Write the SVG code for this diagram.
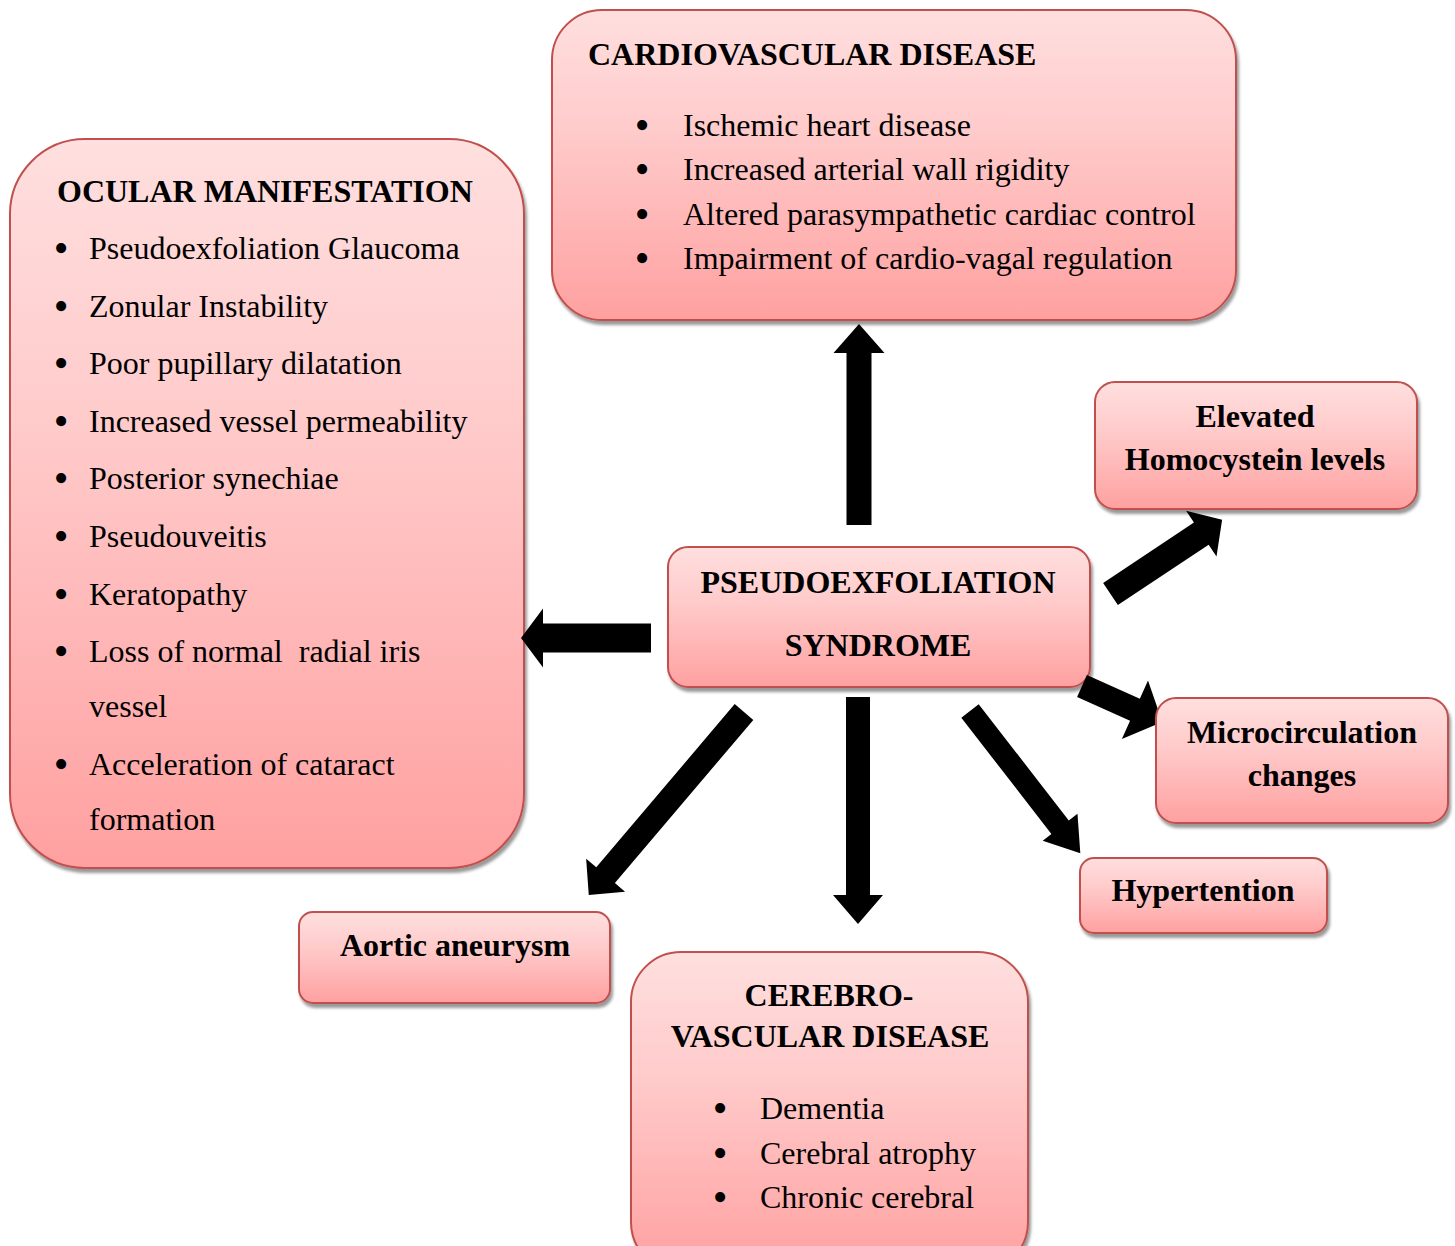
<svg xmlns="http://www.w3.org/2000/svg" width="1455" height="1246" viewBox="0 0 1455 1246">
<style>
.box{fill:url(#g);stroke:#c0504d;stroke-width:2;filter:url(#sh)}
text{font-family:"Liberation Serif","Times New Roman",serif;font-size:32px;fill:#000}
.b{font-weight:bold}
.c{text-anchor:middle}
.bul{text-anchor:middle;font-size:42px}
.arr{fill:#000}
</style>
<defs>
<linearGradient id="g" x1="0" y1="0" x2="0" y2="1">
<stop offset="0" stop-color="#ffdfdf"/>
<stop offset="0.4" stop-color="#ffcaca"/>
<stop offset="1" stop-color="#ffa0a0"/>
</linearGradient>
<filter id="sh" x="-10%" y="-10%" width="120%" height="130%">
<feDropShadow dx="2" dy="4" stdDeviation="1.5" flood-color="#000" flood-opacity="0.4"/>
</filter>
</defs>

<g id="cardio">
<rect class="box" x="552" y="10" width="684" height="310" rx="50"/>
<text class="b" x="588" y="65">CARDIOVASCULAR DISEASE</text>
<text class="bul" x="642" y="139">•</text><text x="683" y="136">Ischemic heart disease</text>
<text class="bul" x="642" y="183">•</text><text x="683" y="180">Increased arterial wall rigidity</text>
<text class="bul" x="642" y="228">•</text><text x="683" y="225">Altered parasympathetic cardiac control</text>
<text class="bul" x="642" y="272">•</text><text x="683" y="269">Impairment of cardio-vagal regulation</text>
</g>

<g id="ocular">
<rect class="box" x="10" y="139" width="514" height="729" rx="75"/>
<text class="b" x="57" y="202">OCULAR MANIFESTATION</text>
<text class="bul" x="61" y="262">•</text><text x="89" y="259">Pseudoexfoliation Glaucoma</text>
<text class="bul" x="61" y="320">•</text><text x="89" y="317">Zonular Instability</text>
<text class="bul" x="61" y="377">•</text><text x="89" y="374">Poor pupillary dilatation</text>
<text class="bul" x="61" y="435">•</text><text x="89" y="432">Increased vessel permeability</text>
<text class="bul" x="61" y="492">•</text><text x="89" y="489">Posterior synechiae</text>
<text class="bul" x="61" y="550">•</text><text x="89" y="547">Pseudouveitis</text>
<text class="bul" x="61" y="608">•</text><text x="89" y="605">Keratopathy</text>
<text class="bul" x="61" y="665">•</text><text x="89" y="662" style="white-space:pre">Loss of normal  radial iris</text>
<text x="89" y="717">vessel</text>
<text class="bul" x="61" y="778">•</text><text x="89" y="775">Acceleration of cataract</text>
<text x="89" y="830">formation</text>
</g>

<g id="homocystein">
<rect class="box" x="1095" y="382" width="322" height="127" rx="20"/>
<text class="b c" x="1255" y="427">Elevated</text>
<text class="b c" x="1255" y="470">Homocystein levels</text>
</g>

<g id="pxf">
<rect class="box" x="668" y="547" width="422" height="140" rx="20"/>
<text class="b c" x="878" y="593">PSEUDOEXFOLIATION</text>
<text class="b c" x="878" y="656">SYNDROME</text>
</g>

<g id="hypertention">
<rect class="box" x="1080" y="858" width="247" height="75" rx="14"/>
<text class="b c" x="1203" y="901">Hypertention</text>
</g>

<g id="aortic">
<rect class="box" x="299" y="912" width="311" height="91" rx="14"/>
<text class="b c" x="455" y="956">Aortic aneurysm</text>
</g>

<g id="cerebro">
<rect class="box" x="631" y="952" width="397" height="320" rx="50"/>
<text class="b c" x="829" y="1006">CEREBRO-</text>
<text class="b c" x="830" y="1047">VASCULAR DISEASE</text>
<text class="bul" x="720" y="1122">•</text><text x="760" y="1119">Dementia</text>
<text class="bul" x="720" y="1167">•</text><text x="760" y="1164">Cerebral atrophy</text>
<text class="bul" x="720" y="1211">•</text><text x="760" y="1208">Chronic cerebral</text>
</g>

<g id="connectors">
<path class="arr" transform="translate(859,525) rotate(-90)" d="M0,-12.5 L172,-12.5 L172,-25.5 L201,0 L172,25.5 L172,12.5 L0,12.5 Z"/>
<path class="arr" transform="translate(651,638) rotate(180)" d="M0,-14.5 L108,-14.5 L108,-29.5 L130,0 L108,29.5 L108,14.5 L0,14.5 Z"/>
<path class="arr" transform="translate(858,697) rotate(90)" d="M0,-12 L198,-12 L198,-25 L227,0 L198,25 L198,12 L0,12 Z"/>
<path class="arr" transform="translate(744,712) rotate(130.3)" d="M0,-12.2 L214,-12.2 L214,-25.5 L240,0 L214,25.5 L214,12.2 L0,12.2 Z"/>
<path class="arr" transform="translate(970,711) rotate(52.2)" d="M0,-11 L147,-11 L147,-22 L180,0 L147,22 L147,11 L0,11 Z"/>
<path class="arr" transform="translate(1110.5,594) rotate(-33.6)" d="M0,-13.3 L109,-13.3 L109,-27.5 L134,0 L109,27.5 L109,13.3 L0,13.3 Z"/>
<path class="arr" transform="translate(1082,686) rotate(24.1)" d="M0,-12 L58,-12 L58,-32 L88,0 L58,32 L58,12 L0,12 Z"/>
</g>

<g id="micro">
<rect class="box" x="1156" y="698" width="292" height="125" rx="20"/>
<text class="b c" x="1302" y="743">Microcirculation</text>
<text class="b c" x="1302" y="786">changes</text>
</g>
</svg>
